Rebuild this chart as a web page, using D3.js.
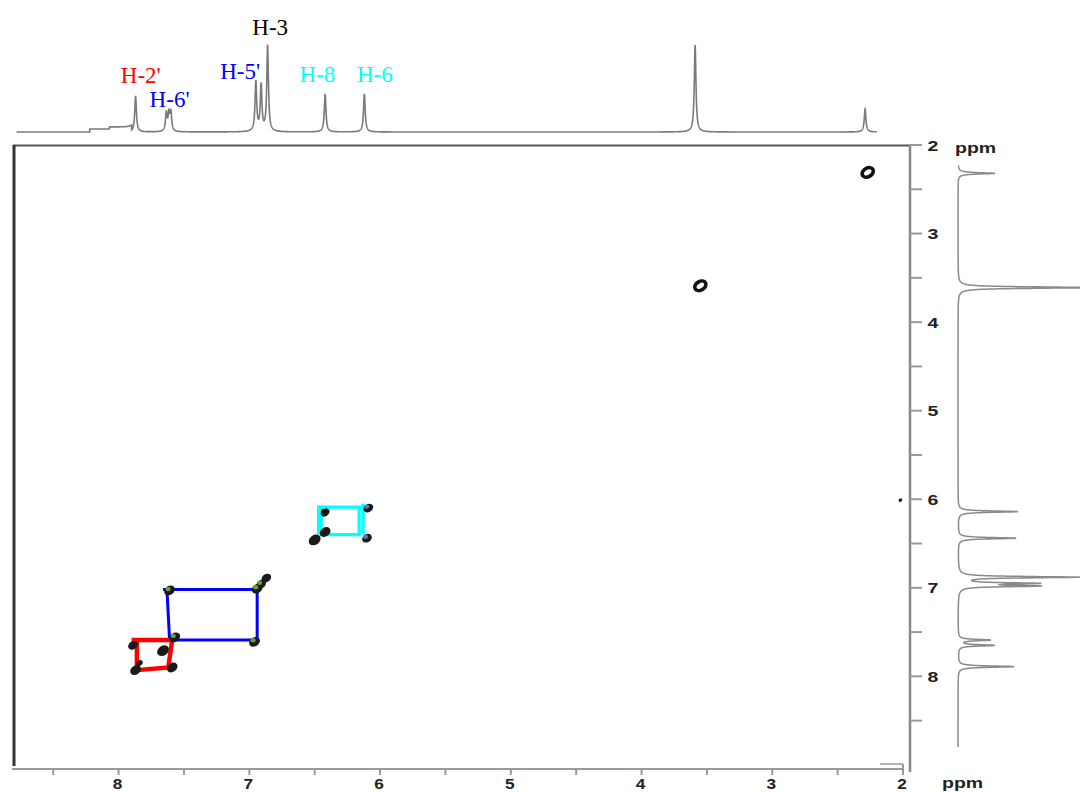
<!DOCTYPE html>
<html>
<head>
<meta charset="utf-8">
<script src="https://cdn.jsdelivr.net/npm/d3@7/dist/d3.min.js"></script>
<style>
  html, body { margin: 0; padding: 0; background: #fff; }
  svg { display: block; }
</style>
</head>
<body>
<svg id="chart" width="1080" height="792"></svg>
<script>
// ---------------- DATA ----------------
// Axis ticks (ppm)
const xTicks = [8.5, 8, 7.5, 7, 6.5, 6, 5.5, 5, 4.5, 4, 3.5, 3, 2.5, 2];
const xTickLabels = ["8", "7", "6", "5", "4", "3", "2"];
const yTicks = [2, 2.5, 3, 3.5, 4, 4.5, 5, 5.5, 6, 6.5, 7, 7.5, 8, 8.5];
const yTickLabels = ["2", "3", "4", "5", "6", "7", "8"];

// Top 1D projection: peak positions (ppm) and heights (relative intensity)
const topPeakPpm    = [7.87, 7.635, 7.615, 7.60, 6.95, 6.91, 6.86, 6.42, 6.12, 3.59, 2.29];
const topPeakHeight = [36,   18,    17,    18,   50,   46,   86,   38,   38,   87,   23];
// small baseline steps of the top trace [from ppm, to ppm, offset]
const topBaseSteps = [[8.22, 8.07, 3], [8.07, 7.90, 5]];

// Right 1D projection
const rightPeakPpm    = [2.32, 3.61, 6.14, 6.44, 6.88, 6.95, 6.98, 7.59, 7.65, 7.89];
const rightPeakHeight = [37,   140,  60,   58,   120,  75,   77,   32,   36,   56];

// Peak labels on the top projection
const labelText  = ["H-2'", "H-6'", "H-5'", "H-3", "H-8", "H-6"];
const labelPpm   = [7.83, 7.61, 7.07, 6.84, 6.48, 6.04];
const labelColor = ["#ff0000", "#0000ff", "#0000ff", "#000000", "#00ffff", "#00ffff"];
const labelLevel = [49, 25, 53, 97, 50, 50];   // intensity level of label baseline

// 2D cross / diagonal peaks [F2 ppm, F1 ppm]
const crossX = [7.61, 6.94, 6.91, 6.87, 6.96, 7.57, 7.66, 7.89, 7.59, 7.87, 7.84, 6.42, 6.09, 6.42, 6.10, 6.50, 2.02];
const crossY = [7.03, 7.01, 6.96, 6.89, 7.61, 7.56, 7.71, 7.65, 7.90, 7.93, 7.85, 6.15, 6.10, 6.37, 6.44, 6.46, 6.01];
const crossSize = [1, 1, 0.9, 0.9, 1, 1, 1.1, 0.9, 1, 1, 0.6, 0.8, 0.9, 1, 0.9, 1.1, 0.35];
const crossTint = ["#6f9a3c", "#6f9a3c", "#6f9a3c", null, "#6f9a3c", "#6f9a3c", null, null, null, null, null, null, "#4a7fc0", "#4a7fc0", "#4a7fc0", null, null];
// ring-shaped diagonal peaks
const ringX = [2.27, 3.55];
const ringY = [2.31, 3.59];

// Correlation boxes (polylines in ppm)
const redBox = [[[7.90, 7.59], [7.59, 7.59], [7.62, 7.90], [7.86, 7.93], [7.86, 7.59]]];
const blueBox = [[[7.66, 7.02], [6.94, 7.02], [6.94, 7.59], [7.61, 7.59], [7.63, 7.02]]];
const cyanBox = [
  [[6.45, 6.09], [6.13, 6.09]],
  [[6.13, 6.05], [6.13, 6.40]],
  [[6.16, 6.08], [6.16, 6.40], [6.45, 6.40], [6.45, 6.07]],
  [[6.47, 6.07], [6.47, 6.40]]
];

// ---------------- LAYOUT ----------------
const svg = d3.select("#chart");
const x = d3.scaleLinear().domain([8.8, 2]).range([14, 903]);
const y = d3.scaleLinear().domain([2, 9.08]).range([145, 772]);
const topI = d3.scaleLinear().domain([0, 100]).range([132, 32]);
const rightI = d3.scaleLinear().domain([0, 100]).range([958, 1058]);

// ---------------- FRAME ----------------
svg.append("line").attr("x1", 13).attr("x2", 911).attr("y1", 145.5).attr("y2", 145.5)
  .attr("stroke", "#555").attr("stroke-width", 2);
svg.append("line").attr("x1", 14).attr("x2", 14).attr("y1", 145).attr("y2", 766)
  .attr("stroke", "#333").attr("stroke-width", 3);

// bottom axis
svg.append("line").attr("x1", 12).attr("x2", 903).attr("y1", 769).attr("y2", 769)
  .attr("stroke", "#9a9a9a").attr("stroke-width", 2);
svg.append("line").attr("x1", 903).attr("x2", 903).attr("y1", 764).attr("y2", 770)
  .attr("stroke", "#9a9a9a").attr("stroke-width", 2);
svg.append("line").attr("x1", 880).attr("x2", 903).attr("y1", 764).attr("y2", 764)
  .attr("stroke", "#9a9a9a").attr("stroke-width", 1.5);
svg.append("g").selectAll("line").data(xTicks).join("line")
  .attr("x1", d => x(d)).attr("x2", d => x(d)).attr("y1", 769).attr("y2", 775)
  .attr("stroke", "#999").attr("stroke-width", 2);
svg.append("g").selectAll("text").data(xTickLabels).join("text")
  .attr("transform", d => `translate(${x(+d) - 1},789) scale(1.15,1)`)
  .attr("text-anchor", "middle")
  .attr("font-family", "Liberation Sans, Arial, sans-serif")
  .attr("font-weight", "bold").attr("font-size", 15).attr("fill", "#222")
  .text(d => d);
svg.append("text").attr("transform", "translate(942,788) scale(1.3,1)")
  .attr("font-family", "Liberation Sans, Arial, sans-serif")
  .attr("font-weight", "bold").attr("font-size", 15).attr("fill", "#222").text("ppm");

// right axis
svg.append("line").attr("x1", 910).attr("x2", 910).attr("y1", 145).attr("y2", 772)
  .attr("stroke", "#888").attr("stroke-width", 2.5);
svg.append("g").selectAll("line").data(yTicks).join("line")
  .attr("x1", 910).attr("x2", 922).attr("y1", d => y(d)).attr("y2", d => y(d))
  .attr("stroke", "#999").attr("stroke-width", 2);
svg.append("g").selectAll("text").data(yTickLabels).join("text")
  .attr("transform", d => `translate(933,${y(+d) + 5.5}) scale(1.3,1)`)
  .attr("text-anchor", "middle")
  .attr("font-family", "Liberation Sans, Arial, sans-serif")
  .attr("font-weight", "bold").attr("font-size", 15).attr("fill", "#222")
  .text(d => d);
svg.append("text").attr("transform", "translate(955,153) scale(1.3,1)")
  .attr("font-family", "Liberation Sans, Arial, sans-serif")
  .attr("font-weight", "bold").attr("font-size", 15).attr("fill", "#222").text("ppm");

// ---------------- 1D PROJECTIONS ----------------
function lorentz(ppm, pos, hts, w) {
  let s = 0;
  for (let i = 0; i < pos.length; i++) {
    const d = (ppm - pos[i]) / w;
    s += hts[i] / (1 + d * d);
  }
  return s;
}
// top trace
const topPts = d3.range(8.78, 2.2, -0.001).map(p => {
  let base = 0;
  topBaseSteps.forEach(s => { if (p <= s[0] && p > s[1]) base = s[2]; });
  return [p, base + lorentz(p, topPeakPpm, topPeakHeight, 0.0075)];
});
svg.append("path").datum(topPts)
  .attr("d", d3.line().x(d => x(d[0])).y(d => topI(d[1])))
  .attr("fill", "none").attr("stroke", "#7a7a7a").attr("stroke-width", 1.6);

// right trace
const rightPts = d3.range(2.23, 8.8, 0.001).map(p => [p, lorentz(p, rightPeakPpm, rightPeakHeight, 0.009)]);
svg.append("path").datum(rightPts)
  .attr("d", d3.line().x(d => rightI(d[1])).y(d => y(d[0])))
  .attr("fill", "none").attr("stroke", "#8a8a8a").attr("stroke-width", 1.5);

// labels
svg.append("g").selectAll("text").data(labelText).join("text")
  .attr("x", (d, i) => x(labelPpm[i]))
  .attr("y", (d, i) => topI(labelLevel[i]))
  .attr("text-anchor", "middle")
  .attr("font-family", "Liberation Serif, Times New Roman, serif")
  .attr("font-size", 23)
  .attr("fill", (d, i) => labelColor[i])
  .text(d => d);

// ---------------- 2D PEAKS ----------------
const line = d3.line().x(d => x(d[0])).y(d => y(d[1]));
const gBox = svg.append("g").attr("fill", "none").attr("stroke-linejoin", "miter");
gBox.selectAll(".cy").data(cyanBox).join("path").attr("class", "cy")
  .attr("d", line).attr("stroke", "#00ffff").attr("stroke-width", 3.2);

const gPk = svg.append("g");
gPk.selectAll("ellipse.pk").data(crossX).join("ellipse").attr("class", "pk")
  .attr("transform", (d, i) => `translate(${x(d)},${y(crossY[i])}) rotate(-35)`)
  .attr("rx", (d, i) => 5.8 * crossSize[i]).attr("ry", (d, i) => 4.4 * crossSize[i])
  .attr("fill", "#1a1a1a");
gPk.selectAll("ellipse.tint").data(crossX.filter((d, i) => crossTint[i]))
  .join("ellipse").attr("class", "tint")
  .attr("transform", d => { const i = crossX.indexOf(d); return `translate(${x(d) - 1.5},${y(crossY[i]) - 1.5})`; })
  .attr("rx", 2.6).attr("ry", 2.2)
  .attr("fill", d => crossTint[crossX.indexOf(d)]);
gPk.selectAll("ellipse.ring").data(ringX).join("ellipse").attr("class", "ring")
  .attr("transform", (d, i) => `translate(${x(d)},${y(ringY[i])}) rotate(-30)`)
  .attr("rx", 6).attr("ry", 4.3)
  .attr("fill", "#fff").attr("stroke", "#111").attr("stroke-width", 3.6);

gBox.selectAll(".bl").data(blueBox).join("path").attr("class", "bl")
  .attr("d", line).attr("stroke", "#0000ff").attr("stroke-width", 3);
gBox.selectAll(".rd").data(redBox).join("path").attr("class", "rd")
  .attr("d", line).attr("stroke", "#ff0000").attr("stroke-width", 4.5);
</script>
</body>
</html>
